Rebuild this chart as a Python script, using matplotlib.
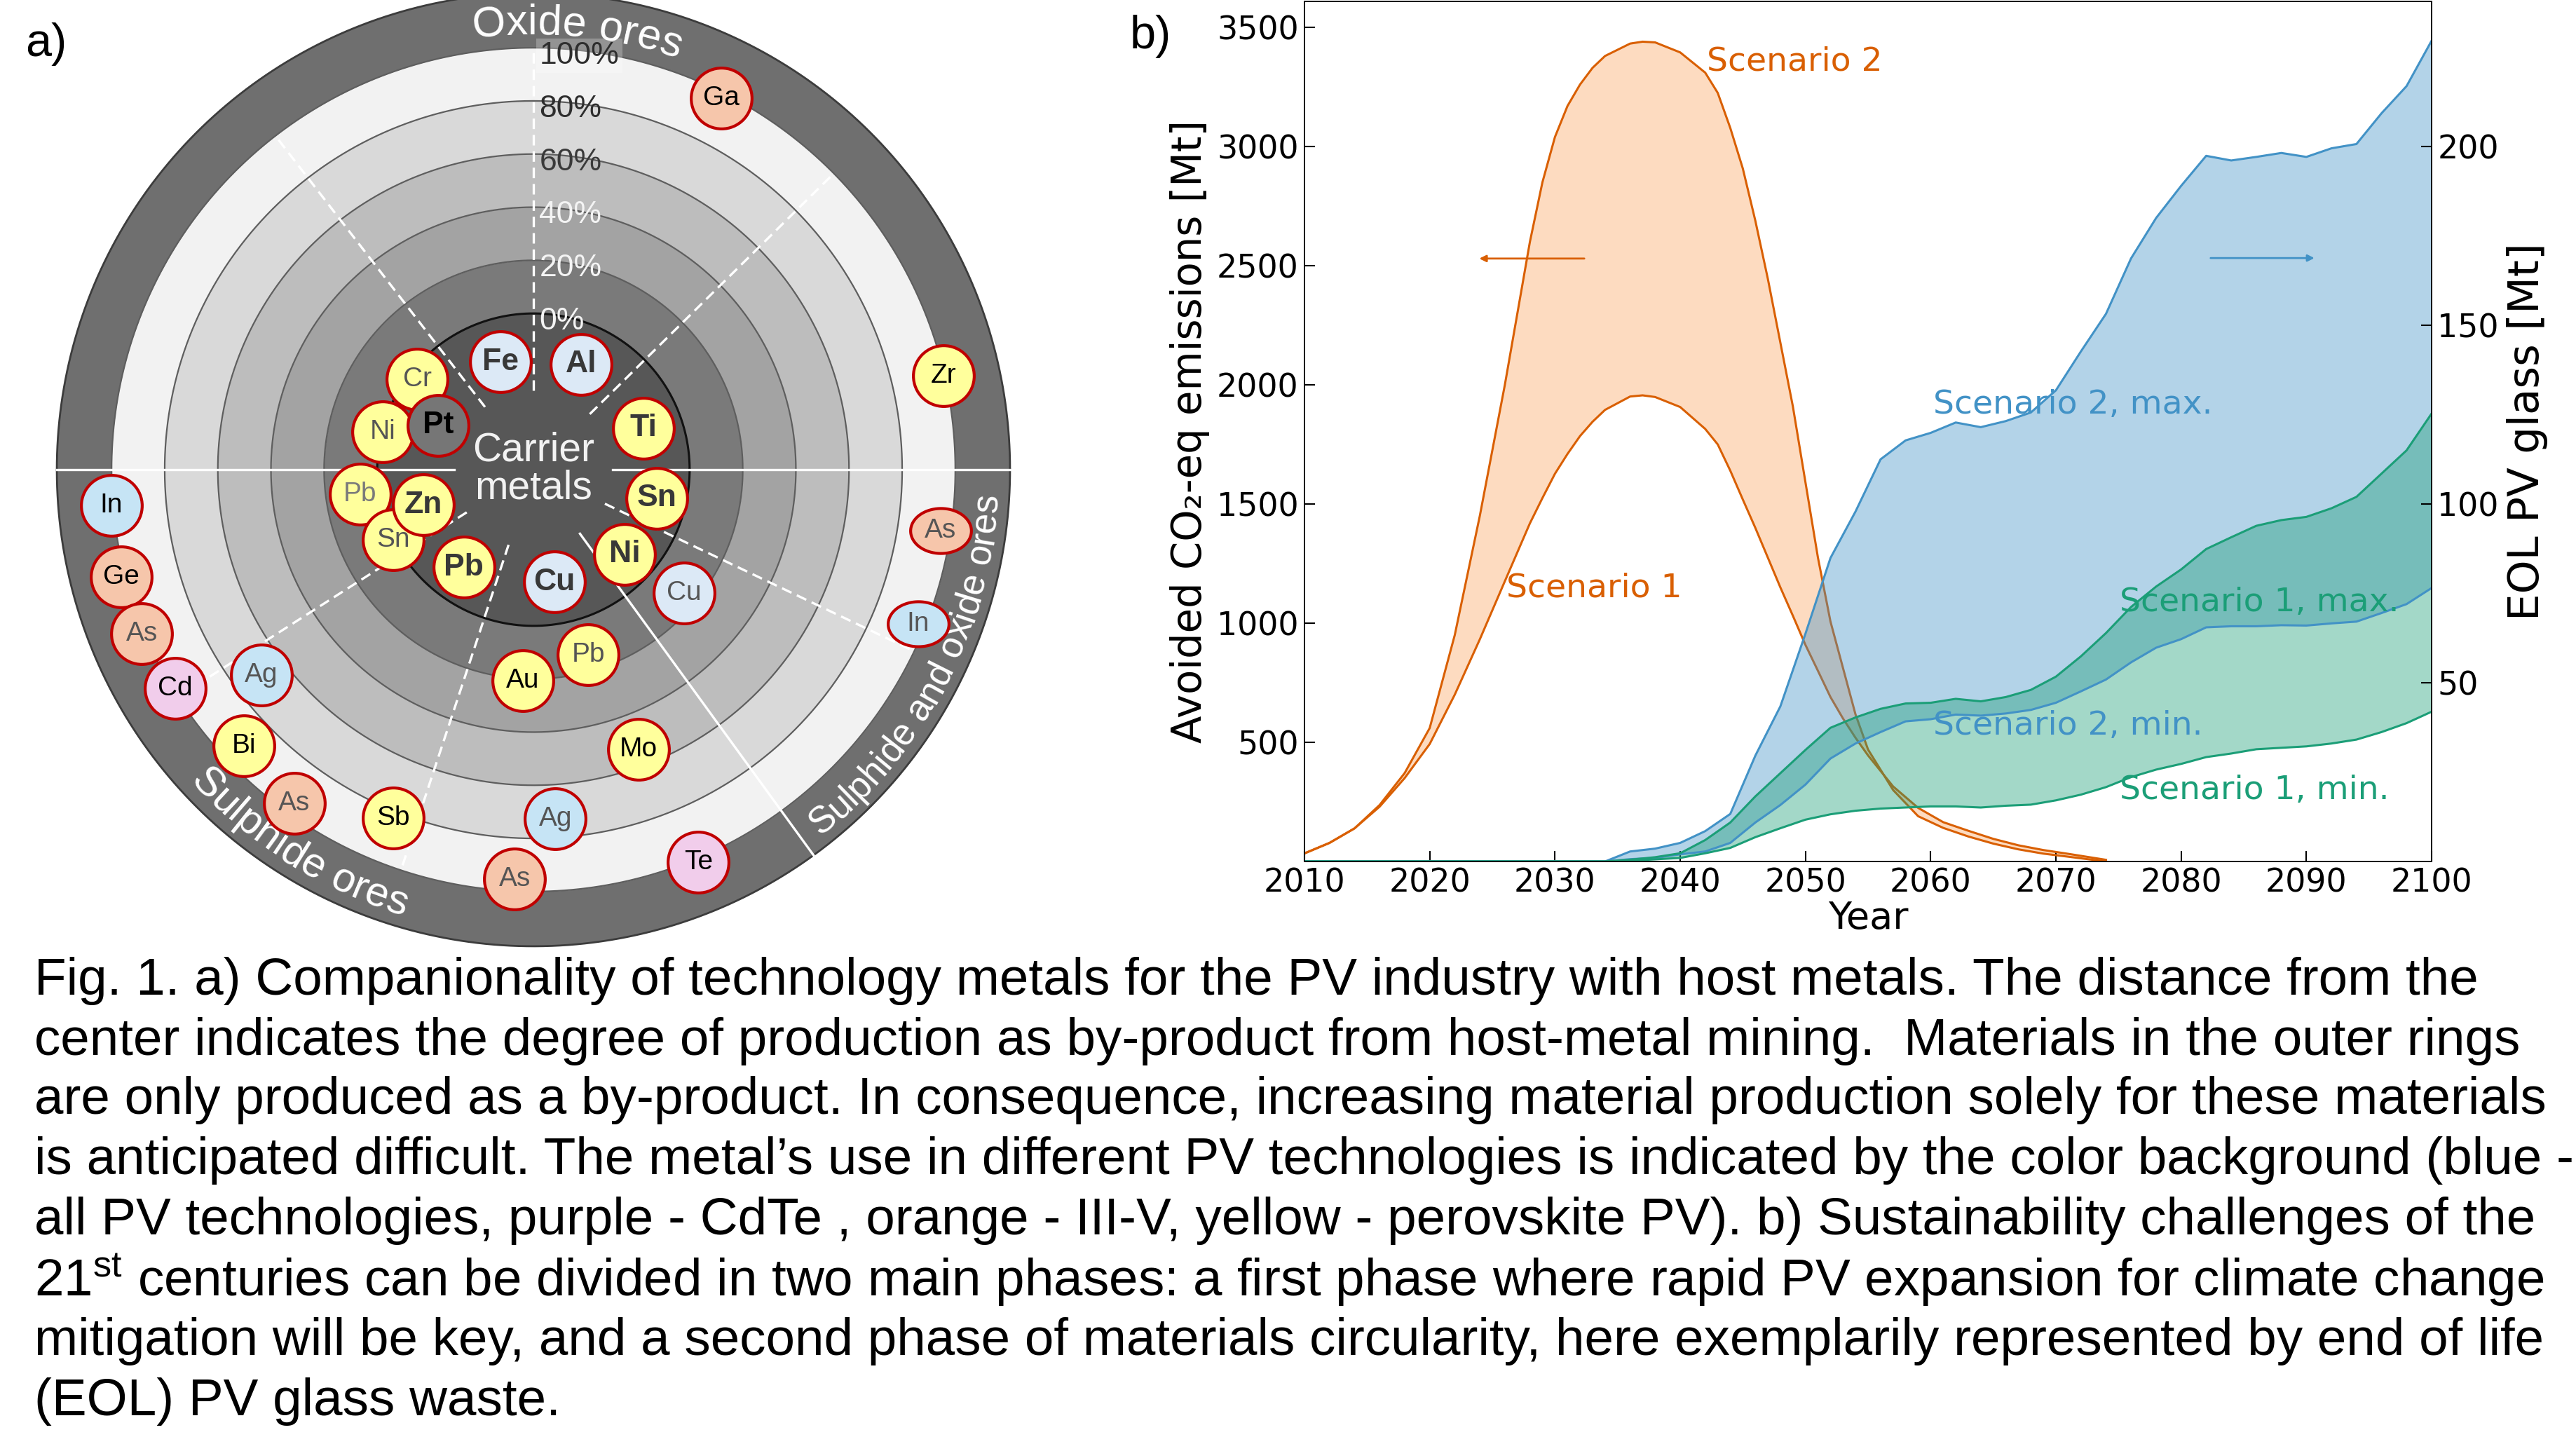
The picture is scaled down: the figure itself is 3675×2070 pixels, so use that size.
import numpy as np
import matplotlib
matplotlib.use("Agg")
import matplotlib.pyplot as plt
from matplotlib.font_manager import FontProperties, findfont, get_font
from matplotlib.path import Path

plt.rcParams["mathtext.fontset"] = "custom"
plt.rcParams["mathtext.rm"] = "Liberation Sans"
plt.rcParams["mathtext.it"] = "Liberation Sans:italic"
plt.rcParams["mathtext.bf"] = "Liberation Sans:bold"

ARIAL = "Liberation Sans"
W, H = 3675, 2070

# ---------------- panel a data ----------------
ring_pct = [0, 20, 40, 60, 80, 100]
elements = ["Ga", "Zr", "As", "In", "Cu", "Te", "Ag", "As", "Mo", "Pb", "Au", "Sb",
            "As", "Bi", "Ag", "In", "Ge", "As", "Cd",
            "Cr", "Ni", "Pt", "Pb", "Sn", "Zn",
            "Fe", "Al", "Ti", "Sn", "Ni", "Cu", "Pb"]
# polar angle of each metal (deg) and share produced as by-product (%)
elem_angle = [63.2, 12.9, -8.5, -21.8, -39.3, -67.2, -86.4, -92.6, -69.4, -73.5, -92.9, -111.9,
              -125.6, -136.3, -143.0, -175.2, -165.4, -157.3, -148.6,
              142.2, 165.9, 155.1, -172.0, -153.4, -162.3,
              107.0, 65.6, 20.6, -13.1, -42.9, -79.4, -125.5]
elem_share = [97.9, 99.5, 96.2, 97.2, 14.5, 101.4, 72.8, 95.4, 53.6, 13.8, 20.7, 82.5,
              95.8, 91.8, 69.5, 100.6, 101.5, 101.0, 99.1,
              -3.4, -0.3, -19.3, 7.1, 0.3, -15.3,
              -16.4, -15.3, -14.5, -11.1, -11.9, -15.8, -13.7]
# PV use: all = all PV technologies, cdte, iiiv, perov, host
elem_use = ["iiiv", "perov", "iiiv", "all", "all", "cdte", "all", "iiiv", "perov", "perov", "perov", "perov",
            "iiiv", "perov", "all", "all", "iiiv", "iiiv", "cdte",
            "perov", "perov", "host", "perov", "perov", "perov",
            "all", "all", "perov", "perov", "perov", "all", "perov"]
carrier = [False] * 21 + [True, False, False, True] + [True] * 7

# styles
fill_col = {"all": "#c6e4f5", "cdte": "#f1cdeb", "iiiv": "#f6c6ab", "perov": "#ffff9c", "host": "#767676"}
pale_blue = "#dce9f6"
faint = [False, False, True, True, True, False, True, True, False, True, False, False,
         True, False, True, False, False, True, False,
         True, True, False, True, True, False,
         False, False, False, False, False, False, False]
squashed = [False, False, True, True] + [False] * 28

R_MIN, R_OUT, R_AX = -58.8, 120.6, 123.0
AX_R_PX = (R_AX - R_MIN) * 3.79
CX, CY = 761, 670

fig = plt.figure(figsize=(W / 100, H / 100), dpi=100)

axa = fig.add_axes([(CX - AX_R_PX) / W, (H - CY - AX_R_PX) / H, 2 * AX_R_PX / W, 2 * AX_R_PX / H],
                   projection="polar")
axa.set_ylim(R_MIN, R_AX)
axa.set_axis_off()

theta = np.linspace(0, 2 * np.pi, 1440)
bounds = [R_MIN] + ring_pct + [R_OUT]
ring_cols = ["#575757", "#7a7a7a", "#a3a3a3", "#bdbdbd", "#d9d9d9", "#f2f2f2", "#6f6f6f"]
for r0, r1, c in zip(bounds[:-1], bounds[1:], ring_cols):
    axa.fill_between(theta, r0, r1, color=c, lw=0, zorder=1)
for r in ring_pct[1:]:
    axa.plot(theta, np.full_like(theta, r), color="#5e5e5e", lw=1.6, zorder=2)
axa.plot(theta, np.zeros_like(theta), color="#111111", lw=2.2, zorder=2)
axa.plot(theta, np.full_like(theta, R_OUT), color="#3c3c3c", lw=2.0, zorder=2)

# sector boundaries
for a in [90, 127.7, 44.6, -25.5, -108.3, -147.4]:
    axa.plot([np.radians(a)] * 2, [-29, 100], color="white", lw=2.4, ls=(0, (4.5, 2.5)), zorder=3)
for a in [0, 180, -54]:
    axa.plot([np.radians(a)] * 2, [-29, R_OUT], color="white", lw=2.4, zorder=3)

# percent labels
pct_cols = ["#f4f4f4", "#f4f4f4", "#f4f4f4", "#3a3a3a", "#2e2e2e", "#2e2e2e"]
for p, c in zip(ring_pct, pct_cols):
    bb = dict(boxstyle="square,pad=0.1", fc="white", ec="none", alpha=0.25) if p == 100 else None
    axa.annotate(f"{p}%", xy=(np.pi / 2, p - 3), xytext=(6, 0), textcoords="offset points",
                 ha="left", va="center", fontsize=32, color=c, family=ARIAL, zorder=4, bbox=bb)

t = np.linspace(0, 2 * np.pi, 80)
ellipse = Path(np.c_[np.cos(t), 0.74 * np.sin(t)], closed=True)
for i, (sym, ang, sh, use) in enumerate(zip(elements, elem_angle, elem_share, elem_use)):
    th = np.radians(ang)
    fc = fill_col[use]
    if use == "all" and (carrier[i] or sym == "Cu"):
        fc = pale_blue
    axa.scatter([th], [sh], s=3900, c=fc, edgecolors="#c00000", linewidths=3.0,
                marker=ellipse if squashed[i] else "o", zorder=10 + 2 * i)
    if carrier[i]:
        tc = "#000000" if sym == "Pt" else "#383838"
        axa.text(th, sh, sym, ha="center", va="center", fontsize=32, fontweight="bold",
                 color=tc, family=ARIAL, zorder=11 + 2 * i)
    else:
        tc = "#555555" if faint[i] else "#000000"
        if sym == "Pb" and 5 < sh < 10:
            tc = "#7a7a7a"
        axa.text(th, sh, sym, ha="center", va="center", fontsize=28,
                 color=tc, family=ARIAL, zorder=11 + 2 * i)

axa.text(0, R_MIN, "Carrier\nmetals", ha="center", va="center", fontsize=41, color="#f2f2f2",
         family=ARIAL, linespacing=1.0, zorder=5)


def arc_text(text, center_deg, r, size_pt, ccw):
    font = get_font(findfont(FontProperties(family=ARIAL)))
    font.set_size(size_pt, 100)
    adv = []
    for ch in text:
        g = font.load_char(ord(ch))
        try:
            adv.append(g.linearHoriAdvance / 65536)
        except AttributeError:
            adv.append(g.horiAdvance / 64)
    total = sum(adv)
    r_px = (r - R_MIN) * AX_R_PX / (R_AX - R_MIN)
    s = 0
    for ch, a in zip(text, adv):
        mid = s + a / 2
        off = np.degrees((total / 2 - mid) / r_px)
        if ccw:
            ang, rot = center_deg - off, center_deg - off + 90
        else:
            ang, rot = center_deg + off, center_deg + off - 90
        axa.text(np.radians(ang), r, ch, rotation=rot, rotation_mode="anchor", ha="center",
                 va="baseline", fontsize=size_pt, color="white", family=ARIAL, zorder=6)
        s += a


arc_text("Oxide ores", 84.3, 105.0, 44, False)
arc_text("Sulphide ores", 238.0, 116.2, 43, True)
arc_text("Sulphide and oxide ores", -27.5, 116.2, 38, True)

fig.text(66 / W, 1 - 63 / H, "a)", ha="center", va="center", fontsize=48, family=ARIAL)
fig.text(1641 / W, 1 - 52 / H, "b)", ha="center", va="center", fontsize=48, family=ARIAL)

# ---------------- panel b data ----------------
years_co2 = [2010, 2012, 2014, 2016, 2018, 2020, 2022, 2024, 2026, 2028, 2029, 2030, 2031, 2032,
             2033, 2034, 2036, 2037, 2038, 2040, 2042, 2043, 2044, 2045, 2046, 2047, 2048, 2049,
             2050, 2051, 2052, 2053, 2054, 2055, 2057, 2059, 2061, 2063, 2065, 2067, 2069, 2071,
             2074]
co2_s2 = [34, 78, 139, 237, 371, 560, 950, 1450, 2000, 2600, 2850, 3040, 3170, 3260,
          3330, 3380, 3432, 3440, 3437, 3395, 3310, 3225, 3078, 2908, 2689, 2445, 2177, 1909,
          1592, 1275, 1007, 812, 617, 470, 300, 190, 141, 105, 75, 51, 33, 20,
          0]
co2_s1 = [34, 78, 139, 230, 350, 493, 700, 932, 1176, 1419, 1525, 1627, 1710, 1785,
          1845, 1895, 1951, 1956, 1949, 1907, 1815, 1750, 1640, 1519, 1400, 1275, 1150, 1031,
          909, 800, 690, 600, 519, 445, 315, 225, 165, 129, 95, 68, 48, 32,
          7]

years_eol = [2010, 2034, 2036, 2038, 2040, 2042, 2044, 2046, 2048, 2050, 2052, 2054, 2056, 2058,
             2060, 2062, 2064, 2066, 2068, 2070, 2072, 2074, 2076, 2078, 2080, 2082, 2084, 2086,
             2088, 2090, 2092, 2094, 2096, 2098, 2100]
eol_s2_max = [0, 0, 2.8, 3.6, 5.2, 8.5, 13.3, 29.6, 43.4, 63.7, 84.9, 97.9, 112.5, 117.8,
              119.9, 122.8, 121.5, 123.2, 125.6, 131.8, 142.7, 153.2, 168.7, 180.0, 189.0, 197.4,
              196.1, 197.1, 198.2, 197.1, 199.5, 200.7, 209.3, 216.9, 229.6]
eol_s2_min = [0, 0, 0.65, 1.0, 2.0, 2.8, 5.2, 10.9, 15.8, 21.5, 28.8, 33.0, 36.2, 39.2,
              39.8, 41.1, 40.8, 41.4, 42.4, 44.4, 47.6, 50.9, 55.7, 59.8, 62.2, 65.5,
              65.8, 65.8, 66.1, 66.0, 66.6, 67.1, 69.5, 72.0, 76.5]
eol_s1_max = [0, 0, 0.5, 1.2, 2.3, 6.0, 10.9, 18.2, 24.7, 31.2, 37.4, 40.3, 42.7, 44.2,
              44.4, 45.5, 44.8, 46.0, 48.0, 51.7, 57.4, 63.9, 71.2, 76.9, 81.7, 87.4,
              90.7, 93.9, 95.5, 96.4, 98.8, 102.0, 108.5, 115.0, 125.3]
eol_s1_min = [0, 0, 0.2, 0.6, 1.0, 2.3, 3.8, 6.8, 9.3, 11.7, 13.2, 14.2, 14.8, 15.1,
              15.4, 15.4, 15.1, 15.6, 15.9, 17.1, 18.7, 20.8, 23.6, 25.7, 27.3, 29.2,
              30.2, 31.4, 31.8, 32.2, 33.0, 34.1, 36.2, 38.7, 41.9]

ORANGE, BLUE, GREEN = "#d95f02", "#4292c6", "#1b9e77"
Y_TOP = 3609

ax = fig.add_axes([1861 / W, 1 - 1229 / H, (3469 - 1861) / W, 1227 / H])
ax.fill_between(years_co2, co2_s1, co2_s2, color="#fb9a4c", alpha=0.35, lw=0)
ax.plot(years_co2, co2_s2, color=ORANGE, lw=2.2)
ax.plot(years_co2, co2_s1, color=ORANGE, lw=2.2)
ax.set_xlim(2010, 2100)
ax.set_ylim(0, Y_TOP)
ax.set_xticks(range(2010, 2101, 10))
ax.set_yticks(range(500, 3501, 500))
ax.set_xlabel("Year", fontsize=39, labelpad=1)
ax.set_ylabel("Avoided CO₂-eq emissions [Mt]", fontsize=41.5, labelpad=7)
ax.tick_params(direction="in", length=11, width=1.5, labelsize=33, pad=6, top=False, right=False)

ax2 = ax.twinx()
ax2.fill_between(years_eol, eol_s2_min, eol_s2_max, color=BLUE, alpha=0.4, lw=0)
ax2.fill_between(years_eol, eol_s1_min, eol_s1_max, color=GREEN, alpha=0.4, lw=0)
ax2.plot(years_eol, eol_s2_max, color=BLUE, lw=2.2)
ax2.plot(years_eol, eol_s2_min, color=BLUE, lw=2.2)
ax2.plot(years_eol, eol_s1_max, color=GREEN, lw=2.2)
ax2.plot(years_eol, eol_s1_min, color=GREEN, lw=2.2)
ax2.set_ylim(0, Y_TOP / 15)
ax2.set_yticks([50, 100, 150, 200])
ax2.set_ylabel("EOL PV glass [Mt]", fontsize=44, labelpad=8)
ax2.tick_params(direction="in", length=11, width=1.5, labelsize=33, pad=6)
for a in (ax, ax2):
    for sp in a.spines.values():
        sp.set_linewidth(1.2)

ax.text(2042.1, 3355, "Scenario 2", color=ORANGE, fontsize=34, va="center")
ax.text(2026.1, 1148, "Scenario 1", color=ORANGE, fontsize=34, va="center")
ax.annotate("", xy=(2023.8, 2530), xytext=(2032.5, 2530),
            arrowprops=dict(arrowstyle="-|>", color=ORANGE, lw=2, mutation_scale=14))
ax2.annotate("", xy=(2090.8, 168.8), xytext=(2082.2, 168.8),
             arrowprops=dict(arrowstyle="-|>", color=BLUE, lw=2, mutation_scale=14))
ax2.text(2060.2, 127.7, "Scenario 2, max.", color=BLUE, fontsize=34, va="center")
ax2.text(2060.2, 37.9, "Scenario 2, min.", color=BLUE, fontsize=34, va="center")
ax2.text(2075.1, 72.5, "Scenario 1, max.", color=GREEN, fontsize=34, va="center")
ax2.text(2075.1, 20.0, "Scenario 1, min.", color=GREEN, fontsize=34, va="center")

# ---------------- caption ----------------
caption = [
    "Fig. 1. a) Companionality of technology metals for the PV industry with host metals. The distance from the",
    "center indicates the degree of production as by-product from host-metal mining.  Materials in the outer rings",
    "are only produced as a by-product. In consequence, increasing material production solely for these materials",
    "is anticipated difficult. The metal\u2019s use in different PV technologies is indicated by the color background (blue -",
    "all PV technologies, purple - CdTe , orange - III-V, yellow - perovskite PV). b) Sustainability challenges of the",
    "21$^{\\mathrm{st}}$ centuries can be divided in two main phases: a first phase where rapid PV expansion for climate change",
    "mitigation will be key, and a second phase of materials circularity, here exemplarily represented by end of life",
    "(EOL) PV glass waste.",
]
cap_y = [1399, 1486, 1570, 1655, 1741, 1826, 1913, 1999]
texts = [fig.text(49 / W, 1 - y / H, line, ha="left", va="center", fontsize=46, family=ARIAL,
                  math_fontfamily="custom")
         for line, y in zip(caption, cap_y)]
renderer = fig.canvas.get_renderer()
w0 = texts[0].get_window_extent(renderer).width
for t_ in texts:
    t_.set_fontsize(46 * 3486 / w0)

fig.savefig("out.png", dpi=100)
